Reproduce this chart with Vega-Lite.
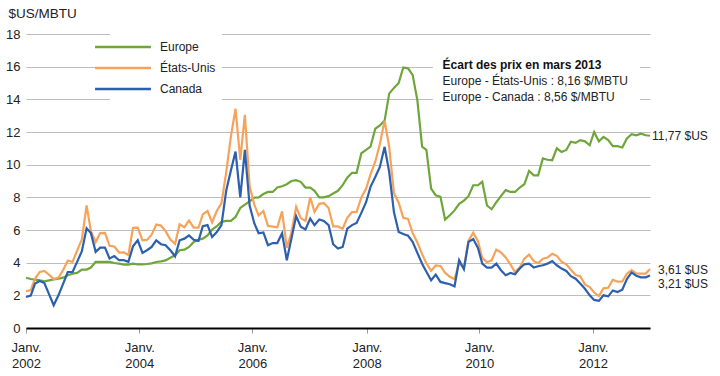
{
  "$schema": "https://vega.github.io/schema/vega-lite/v6.json",
  "width": 624,
  "height": 294,
  "autosize": {"type": "none"},
  "padding": {"left": 26, "top": 34, "right": 70, "bottom": 48},
  "background": "white",
  "config": {"font": "Liberation Sans", "view": {"stroke": null}},
  "datasets": {
    "prices": [
      {"d": "2002-01-01", "Europe": 3.08, "États-Unis": 2.25, "Canada": 1.90},
      {"d": "2002-02-01", "Europe": 3.00, "États-Unis": 2.32, "Canada": 1.98},
      {"d": "2002-03-01", "Europe": 2.96, "États-Unis": 3.03, "Canada": 2.72},
      {"d": "2002-04-01", "Europe": 2.92, "États-Unis": 3.43, "Canada": 2.88},
      {"d": "2002-05-01", "Europe": 2.86, "États-Unis": 3.50, "Canada": 2.75},
      {"d": "2002-06-01", "Europe": 2.92, "États-Unis": 3.26, "Canada": 2.06},
      {"d": "2002-07-01", "Europe": 2.98, "États-Unis": 2.99, "Canada": 1.39},
      {"d": "2002-08-01", "Europe": 3.02, "États-Unis": 3.09, "Canada": 2.00},
      {"d": "2002-09-01", "Europe": 3.08, "États-Unis": 3.55, "Canada": 2.72},
      {"d": "2002-10-01", "Europe": 3.23, "États-Unis": 4.13, "Canada": 3.43},
      {"d": "2002-11-01", "Europe": 3.33, "États-Unis": 4.04, "Canada": 3.43},
      {"d": "2002-12-01", "Europe": 3.37, "États-Unis": 4.74, "Canada": 4.05},
      {"d": "2003-01-01", "Europe": 3.58, "États-Unis": 5.43, "Canada": 4.70},
      {"d": "2003-02-01", "Europe": 3.58, "États-Unis": 7.50, "Canada": 6.10},
      {"d": "2003-03-01", "Europe": 3.70, "États-Unis": 5.93, "Canada": 5.82},
      {"d": "2003-04-01", "Europe": 4.05, "États-Unis": 5.26, "Canada": 4.66},
      {"d": "2003-05-01", "Europe": 4.05, "États-Unis": 5.81, "Canada": 4.92},
      {"d": "2003-06-01", "Europe": 4.05, "États-Unis": 5.82, "Canada": 4.92},
      {"d": "2003-07-01", "Europe": 4.05, "États-Unis": 5.03, "Canada": 4.25},
      {"d": "2003-08-01", "Europe": 3.98, "États-Unis": 4.99, "Canada": 4.40},
      {"d": "2003-09-01", "Europe": 3.94, "États-Unis": 4.62, "Canada": 4.15},
      {"d": "2003-10-01", "Europe": 3.88, "États-Unis": 4.63, "Canada": 4.15},
      {"d": "2003-11-01", "Europe": 3.88, "États-Unis": 4.47, "Canada": 4.05},
      {"d": "2003-12-01", "Europe": 3.94, "États-Unis": 6.13, "Canada": 5.00},
      {"d": "2004-01-01", "Europe": 3.90, "États-Unis": 6.14, "Canada": 5.37},
      {"d": "2004-02-01", "Europe": 3.90, "États-Unis": 5.37, "Canada": 4.60},
      {"d": "2004-03-01", "Europe": 3.92, "États-Unis": 5.39, "Canada": 4.76},
      {"d": "2004-04-01", "Europe": 3.96, "États-Unis": 5.71, "Canada": 4.96},
      {"d": "2004-05-01", "Europe": 4.04, "États-Unis": 6.33, "Canada": 5.37},
      {"d": "2004-06-01", "Europe": 4.08, "États-Unis": 6.27, "Canada": 5.13},
      {"d": "2004-07-01", "Europe": 4.14, "États-Unis": 5.93, "Canada": 5.07},
      {"d": "2004-08-01", "Europe": 4.30, "États-Unis": 5.41, "Canada": 4.76},
      {"d": "2004-09-01", "Europe": 4.45, "États-Unis": 5.15, "Canada": 4.39},
      {"d": "2004-10-01", "Europe": 4.76, "États-Unis": 6.35, "Canada": 5.37},
      {"d": "2004-11-01", "Europe": 4.80, "États-Unis": 6.17, "Canada": 5.47},
      {"d": "2004-12-01", "Europe": 4.96, "États-Unis": 6.58, "Canada": 5.67},
      {"d": "2005-01-01", "Europe": 5.27, "États-Unis": 6.15, "Canada": 5.40},
      {"d": "2005-02-01", "Europe": 5.40, "États-Unis": 6.14, "Canada": 5.33},
      {"d": "2005-03-01", "Europe": 5.47, "États-Unis": 6.96, "Canada": 6.23},
      {"d": "2005-04-01", "Europe": 5.67, "États-Unis": 7.16, "Canada": 6.30},
      {"d": "2005-05-01", "Europe": 6.02, "États-Unis": 6.47, "Canada": 5.57},
      {"d": "2005-06-01", "Europe": 6.23, "États-Unis": 7.18, "Canada": 5.88},
      {"d": "2005-07-01", "Europe": 6.50, "États-Unis": 7.63, "Canada": 6.30},
      {"d": "2005-08-01", "Europe": 6.56, "États-Unis": 9.53, "Canada": 8.40},
      {"d": "2005-09-01", "Europe": 6.56, "États-Unis": 11.75, "Canada": 9.66},
      {"d": "2005-10-01", "Europe": 6.80, "États-Unis": 13.42, "Canada": 10.80},
      {"d": "2005-11-01", "Europe": 7.35, "États-Unis": 10.30, "Canada": 8.00},
      {"d": "2005-12-01", "Europe": 7.55, "États-Unis": 13.05, "Canada": 10.90},
      {"d": "2006-01-01", "Europe": 7.75, "États-Unis": 8.69, "Canada": 7.50},
      {"d": "2006-02-01", "Europe": 7.98, "États-Unis": 7.54, "Canada": 6.40},
      {"d": "2006-03-01", "Europe": 8.00, "États-Unis": 6.89, "Canada": 5.80},
      {"d": "2006-04-01", "Europe": 8.20, "États-Unis": 7.16, "Canada": 5.85},
      {"d": "2006-05-01", "Europe": 8.33, "États-Unis": 6.25, "Canada": 5.07},
      {"d": "2006-06-01", "Europe": 8.33, "États-Unis": 6.21, "Canada": 5.20},
      {"d": "2006-07-01", "Europe": 8.60, "États-Unis": 6.17, "Canada": 5.20},
      {"d": "2006-08-01", "Europe": 8.68, "États-Unis": 7.14, "Canada": 5.80},
      {"d": "2006-09-01", "Europe": 8.80, "États-Unis": 4.90, "Canada": 4.15},
      {"d": "2006-10-01", "Europe": 9.00, "États-Unis": 5.85, "Canada": 5.47},
      {"d": "2006-11-01", "Europe": 9.05, "États-Unis": 7.41, "Canada": 6.85},
      {"d": "2006-12-01", "Europe": 8.95, "États-Unis": 6.73, "Canada": 6.20},
      {"d": "2007-01-01", "Europe": 8.60, "États-Unis": 6.55, "Canada": 6.03},
      {"d": "2007-02-01", "Europe": 8.60, "États-Unis": 8.00, "Canada": 6.70},
      {"d": "2007-03-01", "Europe": 8.40, "États-Unis": 7.11, "Canada": 6.30},
      {"d": "2007-04-01", "Europe": 8.00, "États-Unis": 7.60, "Canada": 6.64},
      {"d": "2007-05-01", "Europe": 8.00, "États-Unis": 7.64, "Canada": 6.55},
      {"d": "2007-06-01", "Europe": 8.07, "États-Unis": 7.35, "Canada": 6.30},
      {"d": "2007-07-01", "Europe": 8.23, "États-Unis": 6.22, "Canada": 5.13},
      {"d": "2007-08-01", "Europe": 8.40, "États-Unis": 6.22, "Canada": 4.86},
      {"d": "2007-09-01", "Europe": 8.75, "États-Unis": 6.08, "Canada": 4.96},
      {"d": "2007-10-01", "Europe": 9.20, "États-Unis": 6.74, "Canada": 6.08},
      {"d": "2007-11-01", "Europe": 9.50, "États-Unis": 7.10, "Canada": 6.30},
      {"d": "2007-12-01", "Europe": 9.50, "États-Unis": 7.11, "Canada": 6.43},
      {"d": "2008-01-01", "Europe": 10.70, "États-Unis": 7.99, "Canada": 7.05},
      {"d": "2008-02-01", "Europe": 10.90, "États-Unis": 8.54, "Canada": 7.70},
      {"d": "2008-03-01", "Europe": 11.10, "États-Unis": 9.41, "Canada": 8.64},
      {"d": "2008-04-01", "Europe": 12.20, "États-Unis": 10.18, "Canada": 9.25},
      {"d": "2008-05-01", "Europe": 12.40, "États-Unis": 11.27, "Canada": 9.86},
      {"d": "2008-06-01", "Europe": 12.70, "États-Unis": 12.69, "Canada": 11.09},
      {"d": "2008-07-01", "Europe": 14.35, "États-Unis": 11.09, "Canada": 9.55},
      {"d": "2008-08-01", "Europe": 14.70, "États-Unis": 8.26, "Canada": 7.10},
      {"d": "2008-09-01", "Europe": 15.00, "États-Unis": 7.67, "Canada": 5.88},
      {"d": "2008-10-01", "Europe": 15.95, "États-Unis": 6.74, "Canada": 5.75},
      {"d": "2008-11-01", "Europe": 15.90, "États-Unis": 6.68, "Canada": 5.65},
      {"d": "2008-12-01", "Europe": 15.50, "États-Unis": 5.82, "Canada": 5.27},
      {"d": "2009-01-01", "Europe": 13.95, "États-Unis": 5.24, "Canada": 4.60},
      {"d": "2009-02-01", "Europe": 11.10, "États-Unis": 4.52, "Canada": 3.94},
      {"d": "2009-03-01", "Europe": 10.90, "États-Unis": 3.96, "Canada": 3.45},
      {"d": "2009-04-01", "Europe": 8.54, "États-Unis": 3.50, "Canada": 2.92},
      {"d": "2009-05-01", "Europe": 8.13, "États-Unis": 3.83, "Canada": 3.27},
      {"d": "2009-06-01", "Europe": 8.03, "États-Unis": 3.80, "Canada": 2.82},
      {"d": "2009-07-01", "Europe": 6.64, "États-Unis": 3.38, "Canada": 2.75},
      {"d": "2009-08-01", "Europe": 6.90, "États-Unis": 3.14, "Canada": 2.68},
      {"d": "2009-09-01", "Europe": 7.20, "États-Unis": 2.99, "Canada": 2.55},
      {"d": "2009-10-01", "Europe": 7.60, "États-Unis": 4.01, "Canada": 4.15},
      {"d": "2009-11-01", "Europe": 7.80, "États-Unis": 3.66, "Canada": 3.60},
      {"d": "2009-12-01", "Europe": 8.07, "États-Unis": 5.35, "Canada": 5.27},
      {"d": "2010-01-01", "Europe": 8.74, "États-Unis": 5.83, "Canada": 5.45},
      {"d": "2010-02-01", "Europe": 8.74, "États-Unis": 5.32, "Canada": 4.90},
      {"d": "2010-03-01", "Europe": 8.95, "États-Unis": 4.29, "Canada": 3.94},
      {"d": "2010-04-01", "Europe": 7.50, "États-Unis": 4.03, "Canada": 3.70},
      {"d": "2010-05-01", "Europe": 7.27, "États-Unis": 4.14, "Canada": 3.70},
      {"d": "2010-06-01", "Europe": 7.70, "États-Unis": 4.80, "Canada": 3.94},
      {"d": "2010-07-01", "Europe": 8.07, "États-Unis": 4.63, "Canada": 3.54},
      {"d": "2010-08-01", "Europe": 8.44, "États-Unis": 4.32, "Canada": 3.23},
      {"d": "2010-09-01", "Europe": 8.33, "États-Unis": 3.89, "Canada": 3.37},
      {"d": "2010-10-01", "Europe": 8.33, "États-Unis": 3.43, "Canada": 3.29},
      {"d": "2010-11-01", "Europe": 8.60, "États-Unis": 3.71, "Canada": 3.64},
      {"d": "2010-12-01", "Europe": 8.80, "États-Unis": 4.25, "Canada": 3.90},
      {"d": "2011-01-01", "Europe": 9.62, "États-Unis": 4.49, "Canada": 3.94},
      {"d": "2011-02-01", "Europe": 9.35, "États-Unis": 4.09, "Canada": 3.70},
      {"d": "2011-03-01", "Europe": 9.35, "États-Unis": 3.97, "Canada": 3.78},
      {"d": "2011-04-01", "Europe": 10.38, "États-Unis": 4.24, "Canada": 3.84},
      {"d": "2011-05-01", "Europe": 10.30, "États-Unis": 4.31, "Canada": 3.94},
      {"d": "2011-06-01", "Europe": 10.27, "États-Unis": 4.54, "Canada": 4.10},
      {"d": "2011-07-01", "Europe": 11.00, "États-Unis": 4.42, "Canada": 3.84},
      {"d": "2011-08-01", "Europe": 10.78, "États-Unis": 4.06, "Canada": 3.64},
      {"d": "2011-09-01", "Europe": 10.90, "États-Unis": 3.90, "Canada": 3.49},
      {"d": "2011-10-01", "Europe": 11.40, "États-Unis": 3.57, "Canada": 3.17},
      {"d": "2011-11-01", "Europe": 11.33, "États-Unis": 3.24, "Canada": 3.02},
      {"d": "2011-12-01", "Europe": 11.50, "États-Unis": 3.17, "Canada": 2.72},
      {"d": "2012-01-01", "Europe": 11.43, "États-Unis": 2.67, "Canada": 2.40},
      {"d": "2012-02-01", "Europe": 11.19, "États-Unis": 2.50, "Canada": 2.00},
      {"d": "2012-03-01", "Europe": 12.00, "États-Unis": 2.17, "Canada": 1.72},
      {"d": "2012-04-01", "Europe": 11.43, "États-Unis": 1.95, "Canada": 1.66},
      {"d": "2012-05-01", "Europe": 11.70, "États-Unis": 2.43, "Canada": 2.00},
      {"d": "2012-06-01", "Europe": 11.50, "États-Unis": 2.46, "Canada": 1.94},
      {"d": "2012-07-01", "Europe": 11.13, "États-Unis": 2.95, "Canada": 2.30},
      {"d": "2012-08-01", "Europe": 11.13, "États-Unis": 2.84, "Canada": 2.20},
      {"d": "2012-09-01", "Europe": 11.05, "États-Unis": 2.85, "Canada": 2.35},
      {"d": "2012-10-01", "Europe": 11.60, "États-Unis": 3.32, "Canada": 3.00},
      {"d": "2012-11-01", "Europe": 11.87, "États-Unis": 3.54, "Canada": 3.40},
      {"d": "2012-12-01", "Europe": 11.80, "États-Unis": 3.34, "Canada": 3.20},
      {"d": "2013-01-01", "Europe": 11.90, "États-Unis": 3.33, "Canada": 3.10},
      {"d": "2013-02-01", "Europe": 11.80, "États-Unis": 3.33, "Canada": 3.10},
      {"d": "2013-03-01", "Europe": 11.77, "États-Unis": 3.61, "Canada": 3.21}
    ],
    "box": [
      {"d": "2009-04-13", "d2": "2012-12-26", "v": 13.6, "v2": 17.3}
    ],
    "notes": [
      {"role": "titre", "d": "2009-06-15", "v": 16.13, "t": "Écart des prix en mars 2013"},
      {"role": "ligne", "d": "2009-06-15", "v": 15.12, "t": "Europe - États-Unis : 8,16 $/MBTU"},
      {"role": "ligne", "d": "2009-06-15", "v": 14.17, "t": "Europe - Canada : 8,56 $/MBTU"}
    ],
    "ends": [
      {"s": "Europe", "d": "2013-03-01", "v": 11.77, "t": "11,77 $US"},
      {"s": "États-Unis", "d": "2013-03-01", "v": 3.61, "t": "3,61 $US"},
      {"s": "Canada", "d": "2013-03-01", "v": 3.21, "t": "3,21 $US"}
    ]
  },
  "layer": [
    {
      "data": {"name": "box"},
      "mark": {"type": "rect", "color": "white", "strokeWidth": 0},
      "encoding": {
        "x": {
          "field": "d", "type": "temporal",
          "scale": {"type": "utc", "domain": [{"year": 2002, "month": 1, "date": 1, "utc": true}, {"year": 2013, "month": 3, "date": 1, "utc": true}]},
          "axis": {
            "title": null,
            "grid": false,
            "values": [
              {"year": 2002, "month": 1, "date": 1, "utc": true},
              {"year": 2004, "month": 1, "date": 11, "utc": true},
              {"year": 2006, "month": 1, "date": 19, "utc": true},
              {"year": 2008, "month": 2, "date": 5, "utc": true},
              {"year": 2010, "month": 2, "date": 10, "utc": true},
              {"year": 2012, "month": 2, "date": 22, "utc": true}
            ],
            "labelExpr": "['Janv.', utcFormat(datum.value, '%Y')]",
            "domainColor": "#000000",
            "domainWidth": 2,
            "tickColor": "#9a9a9a",
            "tickSize": 5,
            "tickWidth": 1,
            "labelFontSize": 13,
            "labelColor": "#222222",
            "labelPadding": 8,
            "labelLineHeight": 16,
            "labelFlush": false
          }
        },
        "x2": {"field": "d2"},
        "y": {
          "field": "v", "type": "quantitative",
          "scale": {"domain": [0, 18], "nice": false},
          "axis": {
            "title": "$US/MBTU",
            "titleAngle": 0,
            "titleAlign": "left",
            "titleBaseline": "middle",
            "titleX": -18,
            "titleY": -21,
            "titleFontSize": 13.5,
            "titleFontWeight": "normal",
            "titleColor": "#222222",
            "values": [0, 2, 4, 6, 8, 10, 12, 14, 16, 18],
            "tickCount": 10,
            "grid": true,
            "gridColor": "#bdbdbd",
            "gridWidth": 1,
            "domain": false,
            "ticks": false,
            "labelPadding": 6,
            "labelFontSize": 13,
            "labelColor": "#222222",
            "labelOverlap": false
          }
        },
        "y2": {"field": "v2"}
      }
    },
    {
      "data": {"name": "prices"},
      "transform": [{"fold": ["Europe", "États-Unis", "Canada"], "as": ["s", "v"]}],
      "mark": {"type": "line", "strokeWidth": 2.2},
      "encoding": {
        "x": {"field": "d", "type": "temporal"},
        "y": {
          "field": "v", "type": "quantitative",
          "axis": {
            "title": "$US/MBTU",
            "titleAngle": 0,
            "titleAlign": "left",
            "titleBaseline": "middle",
            "titleX": -18,
            "titleY": -21,
            "titleFontSize": 13.5,
            "titleFontWeight": "normal",
            "titleColor": "#222222",
            "values": [0, 2, 4, 6, 8, 10, 12, 14, 16, 18],
            "tickCount": 10,
            "grid": true,
            "gridColor": "#bdbdbd",
            "gridWidth": 1,
            "domain": false,
            "ticks": false,
            "labelPadding": 6,
            "labelFontSize": 13,
            "labelColor": "#222222",
            "labelOverlap": false
          }
        },
        "color": {
          "field": "s", "type": "nominal",
          "scale": {"domain": ["Europe", "États-Unis", "Canada"], "range": ["#6fa63c", "#f7a25a", "#2c60ae"]},
          "legend": {
            "title": null,
            "orient": "none",
            "legendX": 84,
            "legendY": 0,
            "direction": "vertical",
            "fillColor": "white",
            "padding": 6,
            "symbolType": "M-5,0H5",
            "symbolSize": 125,
            "symbolStrokeWidth": 2.5,
            "labelFontSize": 12,
            "labelOffset": 30,
            "labelColor": "#222222",
            "rowPadding": 8
          }
        }
      }
    },
    {
      "data": {"name": "notes"},
      "transform": [{"filter": "datum.role === 'titre'"}],
      "mark": {"type": "text", "align": "left", "baseline": "middle", "fontSize": 12, "fontWeight": "bold", "color": "#111111"},
      "encoding": {
        "x": {"field": "d", "type": "temporal"},
        "y": {"field": "v", "type": "quantitative"},
        "text": {"field": "t"}
      }
    },
    {
      "data": {"name": "notes"},
      "transform": [{"filter": "datum.role === 'ligne'"}],
      "mark": {"type": "text", "align": "left", "baseline": "middle", "fontSize": 12, "color": "#222222"},
      "encoding": {
        "x": {"field": "d", "type": "temporal"},
        "y": {"field": "v", "type": "quantitative"},
        "text": {"field": "t"}
      }
    },
    {
      "data": {"name": "ends"},
      "transform": [{"filter": "datum.s === 'Europe'"}],
      "mark": {"type": "text", "align": "left", "baseline": "middle", "fontSize": 12, "dx": 2, "color": "#222222"},
      "encoding": {
        "x": {"field": "d", "type": "temporal"},
        "y": {"field": "v", "type": "quantitative"},
        "text": {"field": "t"}
      }
    },
    {
      "data": {"name": "ends"},
      "transform": [{"filter": "datum.s === 'États-Unis'"}],
      "mark": {"type": "text", "align": "left", "baseline": "middle", "fontSize": 12, "dx": 8, "dy": 1, "color": "#222222"},
      "encoding": {
        "x": {"field": "d", "type": "temporal"},
        "y": {"field": "v", "type": "quantitative"},
        "text": {"field": "t"}
      }
    },
    {
      "data": {"name": "ends"},
      "transform": [{"filter": "datum.s === 'Canada'"}],
      "mark": {"type": "text", "align": "left", "baseline": "middle", "fontSize": 12, "dx": 8, "dy": 8, "color": "#222222"},
      "encoding": {
        "x": {"field": "d", "type": "temporal"},
        "y": {"field": "v", "type": "quantitative"},
        "text": {"field": "t"}
      }
    }
  ]
}
